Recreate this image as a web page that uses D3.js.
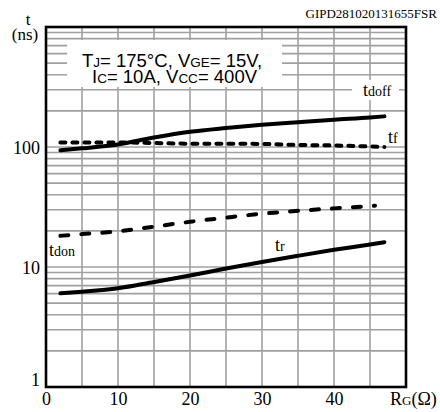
<!DOCTYPE html>
<html><head><meta charset="utf-8">
<script src="https://cdn.jsdelivr.net/npm/d3@7"></script>
<style>
body{margin:0;background:#fff}svg{display:block}
.sf{font-family:"Liberation Serif",serif;font-weight:normal;fill:#000}
.ss{font-family:"Liberation Sans",sans-serif;font-weight:normal;fill:#000}
</style></head>
<body><svg id="c" width="440" height="412"></svg>
<script>
// Data
const rg     = [2, 5, 10, 15, 20, 25, 30, 35, 40, 45, 47];
const tdoff  = [94, 97.5, 105, 120, 134, 144, 153, 161, 169, 176, 180];
const tf     = [109, 109, 109, 108, 106.5, 106.5, 106, 104, 103, 101, 100];
const rgOn   = [2, 5, 10, 15, 20, 25, 30, 35, 40, 45, 45.7];
const tdon   = [18.2, 18.8, 19.8, 21.7, 23.8, 25.8, 27.8, 29.4, 30.8, 32.2, 32.4];
const tr     = [6.04, 6.22, 6.64, 7.5, 8.5, 9.7, 11.0, 12.4, 13.9, 15.4, 16.1];
const xTicks = [0, 10, 20, 30, 40];
const xGrid  = [5, 10, 15, 20, 25, 30, 35, 40, 45];
const yTicks = [1, 10, 100];

const svg = d3.select("#c");
const x = d3.scaleLinear().domain([0, 50]).range([46, 406]);
const y = d3.scaleLog().domain([1, 1000]).range([387, 27]);

// grid
const yGrid = [];
[1, 10, 100].forEach(d => { for (let k = 1; k <= 9; k++) { const v = d * k; if (v > 1 && v < 1000) yGrid.push(v); } });
const g = svg.append("g").attr("stroke", "#a0a0a0").attr("stroke-width", 1.6);
g.selectAll("line.h").data(yGrid).join("line").attr("class", "h")
  .attr("x1", x(0)).attr("x2", x(50)).attr("y1", d => y(d)).attr("y2", d => y(d));
g.selectAll("line.v").data(xGrid).join("line").attr("class", "v")
  .attr("x1", d => x(d)).attr("x2", d => x(d)).attr("y1", y(1)).attr("y2", y(1000));

// curves
const line = (xs) => d3.line().x((d, i) => x(xs[i])).y(d => y(d)).curve(d3.curveMonotoneX);
const curves = [
  {xs: rg, ys: tdoff, dash: null},
  {xs: rg, ys: tr, dash: null},
  {xs: rg, ys: tf, dash: "5,7"},
  {xs: rgOn, ys: tdon, dash: "8,13"}
];
curves.forEach(c => {
  svg.append("path").attr("d", line(c.xs)(c.ys)).attr("fill", "none")
    .attr("stroke", "#000").attr("stroke-width", 4).attr("stroke-linecap", "round")
    .attr("stroke-dasharray", c.dash);
});

// annotation box
svg.append("rect").attr("x", 67).attr("y", 40).attr("width", 215).attr("height", 47).attr("fill", "#fff");
const ann = svg.append("g").attr("class", "ss").style("font-size", "18.5px");
const l1 = ann.append("text").attr("x", 82).attr("y", 67);
l1.append("tspan").text("T");
l1.append("tspan").style("font-size", "13.5px").text("J");
l1.append("tspan").text("= 175°C, V");
l1.append("tspan").style("font-size", "13.5px").text("GE");
l1.append("tspan").text("= 15V,");
const l2 = ann.append("text").attr("x", 92).attr("y", 83);
l2.append("tspan").text("I");
l2.append("tspan").style("font-size", "13.5px").text("C");
l2.append("tspan").text("= 10A, V");
l2.append("tspan").style("font-size", "13.5px").text("CC");
l2.append("tspan").text("= 400V");

// curve labels
svg.append("rect").attr("x", 352).attr("y", 80).attr("width", 47).attr("height", 20).attr("fill", "#fff");
function lab(xp, yp, main, sub) {
  const t = svg.append("text").attr("class", "sf").attr("x", xp).attr("y", yp).style("font-size", "18px");
  t.append("tspan").text(main);
  t.append("tspan").style("font-size", "14px").text(sub);
}
lab(363, 96, "t", "doff");
lab(388, 143, "t", "f");
lab(49, 256, "t", "don");
lab(275, 251, "t", "r");

// frame
svg.append("rect").attr("x", x(0)).attr("y", y(1000)).attr("width", x(50) - x(0)).attr("height", y(1) - y(1000))
  .attr("fill", "none").attr("stroke", "#000").attr("stroke-width", 2.6);

// axes
const ax = svg.append("g").attr("transform", `translate(0,${y(1)})`)
  .call(d3.axisBottom(x).tickValues(xTicks).tickSize(0).tickFormat(d3.format("d")));
ax.attr("font-family", null).attr("font-size", null);
ax.select(".domain").remove();
ax.selectAll("text").attr("class", "sf").attr("y", 18).attr("dy", 0).style("font-size", "18px");

const ay = svg.append("g").attr("transform", `translate(${x(0)},0)`)
  .call(d3.axisLeft(y).tickValues(yTicks).tickSize(0).tickFormat(d3.format("d")));
ay.attr("font-family", null).attr("font-size", null);
ay.select(".domain").remove();
ay.selectAll("text").attr("class", "sf").attr("x", -6).attr("dy", "0.34em").style("font-size", "18px")
  .attr("y", d => d === 1 ? -8 : 0);

// axis titles
svg.append("text").attr("class", "sf").attr("x", 28).attr("y", 25).attr("text-anchor", "middle").style("font-size", "17px").text("t");
svg.append("text").attr("class", "sf").attr("x", 25).attr("y", 40).attr("text-anchor", "middle").style("font-size", "17px").text("(ns)");
const xt = svg.append("text").attr("class", "sf").attr("x", 390).attr("y", 405).style("font-size", "18px");
xt.append("tspan").text("R");
xt.append("tspan").style("font-size", "13px").text("G");
xt.append("tspan").text("(Ω)");
svg.append("text").attr("class", "sf").attr("x", 437).attr("y", 18).attr("text-anchor", "end").style("font-size", "13px").text("GIPD281020131655FSR");
</script>
</body></html>
